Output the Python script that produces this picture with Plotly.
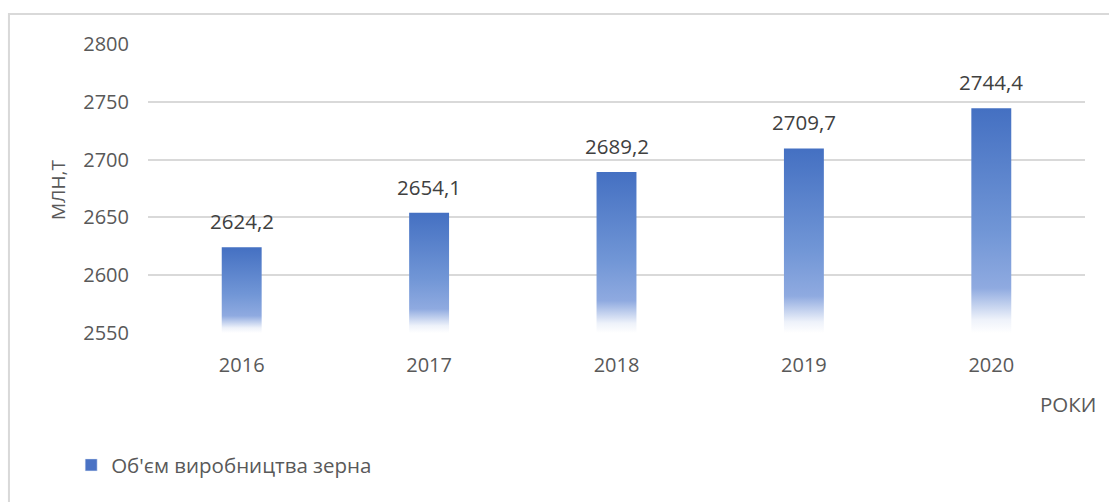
import plotly.graph_objects as go

years = ["2016", "2017", "2018", "2019", "2020"]
values = [2624.2, 2654.1, 2689.2, 2709.7, 2744.4]
labels = ["2624,2", "2654,1", "2689,2", "2709,7", "2744,4"]
y_ticks = [2550, 2600, 2650, 2700, 2750, 2800]
series_name = "Об'єм виробництва зерна"

BASE = 2550
BAR_W = 0.213
FONT = "Open Sans"
TXT = "#595959"

grad = [[0.0, "rgba(255,255,255,1)"], [0.06, "#eef2fa"], [0.2, "#8faae0"],
        [0.45, "#7196d6"], [1.0, "#4470c2"]]

fig = go.Figure()
for i, v in enumerate(values):
    xs = [i - BAR_W / 2, i + BAR_W / 2, i + BAR_W / 2, i - BAR_W / 2, i - BAR_W / 2]
    ys = [BASE, BASE, v, v, BASE]
    fig.add_trace(go.Scatter(
        x=xs, y=ys, mode="lines", fill="toself",
        line=dict(width=0, color="rgba(0,0,0,0)"),
        fillgradient=dict(type="vertical", colorscale=grad),
        showlegend=False, hoverinfo="skip"))

# legend-only entry
fig.add_trace(go.Bar(x=[None], y=[None], name=series_name,
                     marker=dict(color="#4a72c4")))

for i, (v, t) in enumerate(zip(values, labels)):
    fig.add_annotation(x=i, y=v, text=t, showarrow=False, xanchor="center",
                       yanchor="bottom", yshift=10,
                       font=dict(family=FONT, size=20.5, color="#404040"))

fig.add_annotation(xref="paper", yref="paper", x=-0.096, y=0.495,
                   xanchor="center", yanchor="middle",
                   text="МЛН,Т", textangle=-90, showarrow=False,
                   font=dict(family=FONT, size=19, color=TXT))
fig.add_annotation(xref="paper", yref="paper", x=1.0139, y=-0.2457,
                   text="РОКИ", showarrow=False, xanchor="right", yanchor="middle",
                   font=dict(family=FONT, size=20.5, color=TXT))

fig.add_shape(type="rect", xref="paper", yref="paper",
              x0=-0.1484, x1=1.05, y0=-0.65, y1=1.1038,
              line=dict(color="#d9d9d9", width=2), layer="below")

fig.update_layout(
    width=1109, height=502,
    margin=dict(l=148, r=24, t=44, b=169),
    paper_bgcolor="white", plot_bgcolor="white",
    font=dict(family=FONT, size=20, color=TXT),
    showlegend=True,
    legend=dict(x=-0.082, y=-0.457, xanchor="left", yanchor="middle",
                font=dict(family=FONT, size=20.5, color=TXT),
                bgcolor="rgba(0,0,0,0)", itemwidth=30),
    xaxis=dict(range=[-0.5, len(years) - 0.5], tickmode="array",
               tickvals=list(range(len(years))), ticktext=years,
               showgrid=False, zeroline=False, showline=False, ticks="",
               ticklabelstandoff=18, fixedrange=True),
    yaxis=dict(range=[BASE, y_ticks[-1]], tickmode="array", tickvals=y_ticks,
               showgrid=True, gridcolor="#d9d9d9", gridwidth=1.5,
               zeroline=False, showline=False, ticks="",
               ticklabelstandoff=18, fixedrange=True),
)

fig.write_html("out.html")
